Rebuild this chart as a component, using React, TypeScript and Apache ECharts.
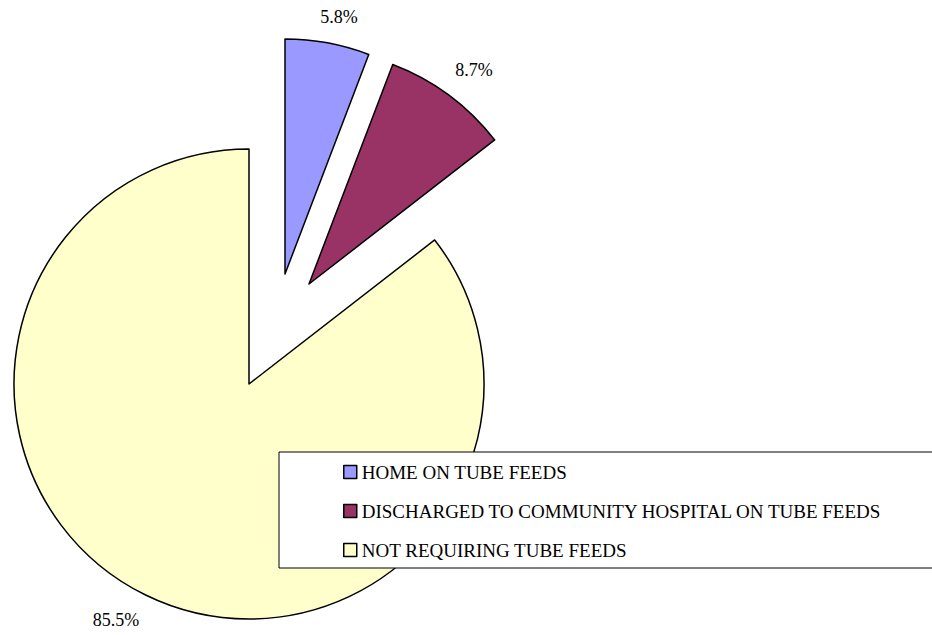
import React, { useEffect, useRef } from "react";
import * as echarts from "echarts";

const categories = [
  "HOME ON TUBE FEEDS",
  "DISCHARGED TO COMMUNITY HOSPITAL ON TUBE FEEDS",
  "NOT REQUIRING TUBE FEEDS",
];
const values = [5.8, 8.7, 85.5];
const colors = ["#9999FF", "#993366", "#FFFFCC"];

// layout of each (exploded) slice: pie centre in px and label line geometry
const sliceCenters = [
  [285, 274],
  [309, 284],
  [249, 384],
];
const labelLen = [26, 31, 28];
const labelShift = [-12, -12, -6];

const FONT = "Times New Roman";
const RADIUS = 235;

export default function App() {
  const ref = useRef<HTMLDivElement>(null);
  useEffect(() => {
    if (!ref.current) return;
    const chart = echarts.init(ref.current, undefined, { renderer: "svg" });
    const series = categories.map((_, k) => ({
      type: "pie",
      center: sliceCenters[k],
      radius: RADIUS,
      startAngle: 90,
      clockwise: true,
      avoidLabelOverlap: false,
      silent: true,
      emphasis: { disabled: true },
      label: {
        show: true,
        position: "outside",
        fontFamily: FONT,
        fontSize: 18,
        color: "#000",
        formatter: (p: any) => Number(p.value).toFixed(1) + "%",
        distanceToLabelLine: labelShift[k],
      },
      labelLine: { show: false, length: labelLen[k], length2: 0 },
      data: categories.map((name, i) => ({
        name,
        value: values[i],
        itemStyle:
          i === k
            ? { color: colors[i], borderColor: "#000", borderWidth: 1.5 }
            : { color: "rgba(0,0,0,0)", borderWidth: 0 },
        label: { show: i === k },
      })),
    }));
    chart.setOption({
      animation: false,
      backgroundColor: "#fff",
      textStyle: { fontFamily: FONT },
      legend: {
        orient: "vertical",
        left: 279,
        top: 452,
        padding: [10, 90, 8, 64],
        itemWidth: 13,
        itemHeight: 13,
        itemGap: 19,
        itemTextGap: 3,
        icon: "rect",
        borderColor: "#000",
        borderWidth: 1,
        backgroundColor: "#fff",
        borderRadius: 0,
        selectedMode: false,
        textStyle: {
          fontFamily: FONT,
          fontSize: 19,
          lineHeight: 20,
          color: "#000",
        },
        data: categories.map((name, i) => ({
          name,
          itemStyle: { color: colors[i], borderColor: "#000", borderWidth: 1.5 },
        })),
      },
      series,
    });
    return () => chart.dispose();
  }, []);
  return (
    <div
      ref={ref}
      style={{ position: "absolute", left: 0, top: 0, width: 932, height: 635 }}
    />
  );
}
